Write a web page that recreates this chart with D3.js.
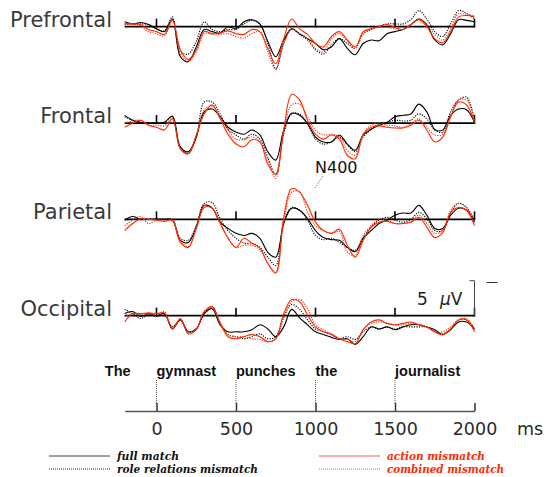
<!DOCTYPE html>
<html><head><meta charset="utf-8">
<script src="https://cdn.jsdelivr.net/npm/d3@7"></script>
<style>body{margin:0;background:#fff}</style>
</head><body>
<svg id="c" width="547" height="477"></svg>
<script>
// ---- data (μV; negative plotted upward) ----
const times = d3.range(-200, 2001, 50);
const regions = ["Prefrontal", "Frontal", "Parietal", "Occipital"];
const conditions = ["full match", "role relations mismatch", "action mismatch", "combined mismatch"];

const prefrontalFull = [-0.7,-0.4,-0.6,-0.3, 0.3,0.7,-1.1,4.3,5.0,2.9,0.4,0.7,0.9,0,0.3,-0.7,-1.0,-0.4,2.1,4.3, 1.9,0.3,1.0,1.7,2.4,3.3,2.9,1.7,3.1,4.0,2.4,1.9,2.0,1.0,0.7,0.4,-0.3,-1.1,-0.3,1.9,2.6,1.0,-1.0,-0.9,-0.7];
const prefrontalRole = [-0.4,-0.4,-0.4,-0.3, 0.3,0.6,-1.4,3.6,3.9,2.1,-0.7,0.4,0.7,0.4,0.4,-0.4,-0.9,-0.3,2.4,6.0, 2.4,0.3,1.1,1.9,3.3,3.9,2.6,1.7,2.4,3.1,1.0,0.4,-0.1,-0.4,-0.4,-0.4,-1.0,-2.3,-1.1,0.7,1.4,-0.4,-2.3,-1.9,-1.1];
const prefrontalAction = [-0.4,-0.4,-0.3,0.4, 0.7,1.1,-1.0,3.3,4.7,3.3,0.7,1.0,0.9,0.6,1.0,1.1,0.4,0.7,3.1,5.3, 1.7,-1.1,0.3,1.1,2.4,2.9,1.4,0.7,1.9,2.9,0.7,0.3,0,-0.3,0.1,0.4,-0.3,-1.0,0,1.7,2.3,0.7,-1.4,-1.6,-1.4];
const prefrontalCombined = [-0.3,-0.4,-0.1,0.7, 1.0,1.3,-0.9,3.9,4.9,3.6,1.0,1.1,1.1,1.0,1.4,1.6,1.0,0.7,3.6,6.1, 2.4,0.4,1.0,1.7,3.1,3.6,1.7,1.0,2.1,3.1,1.0,0.3,0.1,0.1,0.3,0.4,-0.3,-1.1,-0.3,1.1,1.9,0.3,-1.9,-1.7,-1.6];

const frontalFull = [-1.1,-0.4,-0.1,0, 0,-0.1,-1.0,3.4,4.1,2.0,-1.6,-2.0,-0.9,0.6,1.3,1.6,1.0,1.7,4.1,5.3, 1.0,-1.4,-1.1,0.1,2.0,2.7,2.7,1.7,3.0,3.9,1.7,0.9,0.3,-0.1,-0.9,-1.1,-1.3,-2.7,-1.6,0.9,1.0,-1.1,-2.0,-1.9,-0.1];
const frontalRole = [-0.9,-0.4,-0.1,0, 0,-0.1,-0.9,3.6,4.3,2.1,-3.0,-3.0,-1.3,0.9,1.7,2.3,1.6,2.3,4.9,7.4, 1.6,-1.3,-1.3,0.1,2.3,3.0,2.7,2.0,3.1,4.1,2.0,0.9,0.1,-0.1,-0.4,-0.3,-0.4,-1.3,-0.6,1.0,1.3,-1.6,-3.3,-3.7,-0.4];
const frontalAction = [0.6,0,-0.4,0.3, 0.6,1.0,-0.6,3.7,4.4,1.7,-1.3,-2.6,-0.6,1.6,3.0,3.4,2.4,2.7,5.9,7.3, 1.0,-4.1,-3.3,-0.4,1.6,2.3,1.7,2.3,4.6,5.1,1.6,0.6,0.4,0.6,0.7,0.7,0.3,-0.4,1.0,2.7,2.0,-0.9,-3.0,-2.6,-0.1];
const frontalCombined = [0,-0.3,-0.4,0.3, 0.3,0.4,-0.7,3.6,4.4,1.9,-1.9,-2.4,-0.9,1.0,2.3,2.4,2.0,2.7,5.3,7.9, 1.3,-2.6,-2.7,-0.9,1.0,1.7,1.6,2.0,3.9,4.6,1.6,0.3,0,0.3,0.4,0.6,0.1,-0.6,0.6,1.7,1.6,-1.1,-3.3,-3.3,-0.4];

const parietalFull = [0.1,-0.4,0,0, 0,0,0.1,3.0,3.3,1.1,-2.0,-1.6,0.4,1.3,2.0,2.3,2.0,2.7,4.7,5.4, 0.6,-1.6,-1.3,-0.1,1.6,2.6,2.9,3.0,4.0,4.6,2.7,1.6,0.6,0.1,-0.6,-0.9,-0.9,-2.0,-0.6,1.3,1.3,-0.6,-1.6,-1.3,0.4];
const parietalRole = [0.1,0,0,0, 0,0,0,2.7,3.0,0.9,-2.3,-2.4,-0.1,1.6,2.7,3.4,3.4,4.0,5.4,6.6, 0.4,-1.7,-1.3,0.1,2.3,2.9,2.7,3.3,4.0,4.4,2.6,1.1,0.1,-0.3,0.1,0.4,0,-1.0,-0.1,1.6,1.6,-0.9,-2.3,-1.7,0.1];
const parietalAction = [1.6,0.6,-0.1,0, 0.1,0.3,0.1,3.3,4.0,1.3,-1.7,-1.6,0.6,2.7,4.0,2.7,3.4,4.1,6.3,7.6, -0.3,-4.4,-3.9,-2.0,0.4,1.6,2.0,1.4,3.7,5.4,3.0,1.1,0.4,0.3,0.6,0.6,0.4,-0.3,1.1,2.6,1.9,-1.0,-1.7,-1.3,0.9];
const parietalCombined = [0.9,0.1,-0.4,0.6, 0.1,0.1,0.3,3.0,3.9,1.1,-2.0,-1.7,0.4,2.6,4.0,3.7,3.7,4.4,6.3,7.7, 0.6,-3.9,-3.9,-1.0,0.9,1.6,2.0,1.7,4.7,5.1,2.3,0.9,0,0.1,0.6,0.6,0.3,-0.6,0.6,2.0,1.6,-1.3,-2.3,-1.7,0.6];

const occipitalFull = [-0.3,-0.6,0.1,-0.3, 0,-0.3,1.9,0.6,2.3,1.9,-0.3,-1.0,1.3,2.3,2.3,2.3,2.0,1.3,1.9,3.0, 1.6,-0.9,0.3,1.3,2.3,2.7,3.1,3.4,3.3,4.1,3.0,1.6,1.9,1.6,2.0,1.6,1.3,1.3,1.6,2.0,2.7,2.0,0.9,0.9,1.9];
const occipitalRole = [-0.9,-0.3,0.4,-0.1, 0.1,-0.1,1.6,0.6,2.3,1.9,-0.3,-1.3,1.1,2.7,3.0,3.3,3.0,2.6,3.3,3.0, 0.1,-1.6,-0.9,0.6,1.9,2.3,2.7,3.3,3.0,3.4,2.3,1.6,1.9,1.6,1.9,1.6,1.6,1.6,1.6,2.3,2.6,1.9,0.6,0.6,1.9];
const occipitalAction = [0.9,-0.3,-0.3,-0.4, -0.3,-0.4,1.9,0.4,2.6,2.0,-0.6,-1.3,1.1,3.0,3.3,3.0,2.7,3.0,3.7,3.3, -0.3,-2.3,-2.0,-0.1,1.6,2.3,2.6,3.3,3.7,4.0,2.0,0.9,0.6,1.1,1.3,1.1,0.9,1.3,1.6,2.3,2.7,1.9,0.6,0.6,2.3];
const occipitalCombined = [0.1,-0.3,-0.1,-0.3, -0.1,-0.6,1.6,0.6,2.3,1.9,-0.6,-1.1,0.9,2.7,3.0,3.0,3.3,3.4,3.7,3.3, 0.4,-2.0,-2.3,-1.0,1.3,2.0,2.7,3.3,3.4,3.7,2.0,1.1,0.9,1.1,1.3,1.3,1.1,1.3,1.6,2.3,2.3,1.6,0.6,0.4,2.0];

const tickValues = [0, 500, 1000, 1500, 2000];
const words = ["The", "gymnast", "punches", "the", "journalist"];
const wordOnsets = [-325, 0, 500, 1000, 1500];
const scaleBarValue = 5; // μV
const componentLabel = "N400";

// ---- assembly ----
const seriesByRegion = {
  Prefrontal: [prefrontalFull, prefrontalRole, prefrontalAction, prefrontalCombined],
  Frontal: [frontalFull, frontalRole, frontalAction, frontalCombined],
  Parietal: [parietalFull, parietalRole, parietalAction, parietalCombined],
  Occipital: [occipitalFull, occipitalRole, occipitalAction, occipitalCombined]
};
const RED = "#ff2a00";
const condStyle = [
  {color: "#000", dash: null},
  {color: "#000", dash: "1.2,1.3"},
  {color: RED, dash: null},
  {color: RED, dash: "1.2,1.3"}
];
const drawOrder = [0, 1, 3, 2];
const FONT = "DejaVu Sans, sans-serif";

const svg = d3.select("#c");
const x = d3.scaleLinear().domain([-200, 2000]).range([124.7, 474.5]);
const rowY = d3.scalePoint().domain(regions).range([26.7, 315.7]);
const v = d3.scaleLinear().domain([0, 5]).range([0, 35]);

regions.forEach(r => {
  const g = svg.append("g").attr("transform", `translate(0,${rowY(r)})`);
  g.append("text").attr("x", 112).attr("y", 0).attr("text-anchor", "end")
    .attr("font-family", FONT).attr("font-size", 21).attr("fill", "#3a3a3a").text(r);
  g.append("line").attr("x1", x(-200)).attr("x2", x(2000)).attr("y1", 0).attr("y2", 0)
    .attr("stroke", "#000").attr("stroke-width", 1.8);
  g.selectAll("line.tk").data(tickValues).join("line").attr("class", "tk")
    .attr("x1", d => x(d)).attr("x2", d => x(d)).attr("y1", -8).attr("y2", 0.9)
    .attr("stroke", "#000").attr("stroke-width", 1.6);
  const line = d3.line().x((d, i) => x(times[i])).y(d => v(d)).curve(d3.curveCatmullRom.alpha(0.5));
  drawOrder.forEach(ci => {
    g.append("path").attr("d", line(seriesByRegion[r][ci])).attr("fill", "none")
      .attr("stroke", condStyle[ci].color).attr("stroke-width", 1.1)
      .attr("stroke-dasharray", condStyle[ci].dash);
  });
});

// N400 label with pointer
svg.append("text").attr("x", 315).attr("y", 173).attr("font-family", FONT).attr("font-size", 16)
  .attr("fill", "#111").text(componentLabel);
svg.append("line").attr("x1", 323).attr("y1", 176).attr("x2", 315).attr("y2", 188)
  .attr("stroke", "#666").attr("stroke-width", 1).attr("stroke-dasharray", "1,1.2");

// scale bar
const occ = rowY("Occipital");
svg.append("path").attr("d", `M${x(2000) - 5},${occ - v(scaleBarValue)} H${x(2000)} V${occ}`)
  .attr("fill", "none").attr("stroke", "#444").attr("stroke-width", 1);
svg.append("text").attr("x", 486).attr("y", occ - v(scaleBarValue) + 5).attr("font-family", FONT)
  .attr("font-size", 12).attr("fill", "#333").text("—");
const sb = svg.append("text").attr("x", 417).attr("y", 305).attr("font-family", FONT).attr("font-size", 17).attr("fill", "#222");
sb.append("tspan").text(scaleBarValue);
sb.append("tspan").attr("x", 440).attr("font-style", "italic").text("μ");
sb.append("tspan").text("V");

// words & onset markers
const axisY = 411;
svg.selectAll("text.word").data(words).join("text").attr("class", "word")
  .attr("x", (d, i) => x(wordOnsets[i])).attr("y", 376)
  .attr("font-family", "Liberation Sans, Arial, sans-serif").attr("font-weight", "bold")
  .attr("font-size", 14.5).attr("fill", "#111").text(d => d);
svg.selectAll("line.onset").data(wordOnsets.filter(t => t >= 0)).join("line").attr("class", "onset")
  .attr("x1", d => x(d)).attr("x2", d => x(d)).attr("y1", 380).attr("y2", axisY - 8)
  .attr("stroke", "#555").attr("stroke-width", 1).attr("stroke-dasharray", "1,1");

// time axis
const axis = d3.axisBottom(x).tickValues(tickValues).tickFormat(d3.format("d"))
  .tickSizeInner(-8).tickSizeOuter(0).tickPadding(11.5);
const ag = svg.append("g").attr("transform", `translate(0,${axisY})`).call(axis);
ag.select(".domain").attr("stroke", "#555").attr("stroke-width", 1.5);
ag.selectAll(".tick line").attr("stroke", "#333").attr("stroke-width", 1.5);
ag.selectAll(".tick text").attr("font-family", FONT).attr("font-size", 17.5).attr("fill", "#2a2a2a");
svg.append("text").attr("x", 517).attr("y", 435).attr("font-family", FONT).attr("font-size", 17.5)
  .attr("fill", "#2a2a2a").text("ms");

// legend
const legendPos = [[49, 456], [49, 469], [319, 456], [319, 469]];
const legendW = [62, 141, 98, 117];
conditions.forEach((c, i) => {
  const [lx, ly] = legendPos[i];
  svg.append("line").attr("x1", lx).attr("x2", lx + 61).attr("y1", ly).attr("y2", ly)
    .attr("stroke", condStyle[i].color).attr("stroke-width", 1)
    .attr("stroke-opacity", condStyle[i].dash ? 0.8 : 0.75)
    .attr("stroke-dasharray", condStyle[i].dash ? "1,1" : null);
  svg.append("text").attr("x", lx + 68).attr("y", ly + 4)
    .attr("font-family", "DejaVu Serif, serif").attr("font-style", "italic").attr("font-weight", "bold")
    .attr("font-size", 11.5).attr("fill", condStyle[i].color === "#000" ? "#111" : RED)
    .attr("textLength", legendW[i]).attr("lengthAdjust", "spacingAndGlyphs")
    .text(c);
});
</script>
</body></html>
